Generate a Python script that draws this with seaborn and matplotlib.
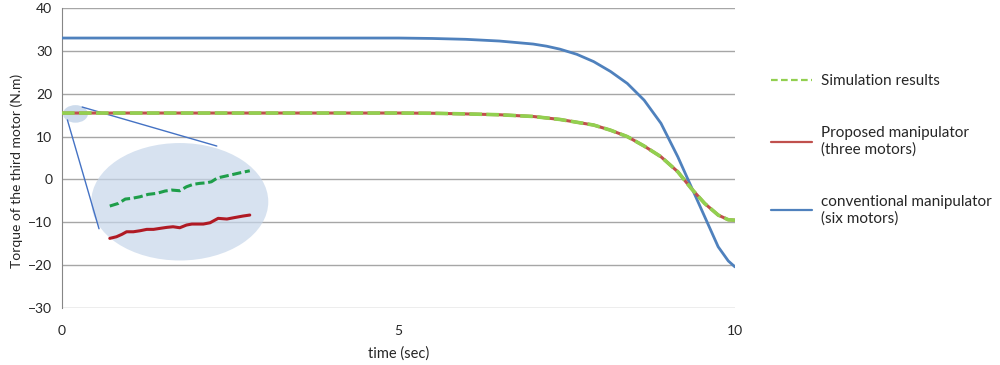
import numpy as np
import pandas as pd
import matplotlib
matplotlib.use('Agg')
import matplotlib.pyplot as plt
from matplotlib.patches import Ellipse
from matplotlib.lines import Line2D
import seaborn as sns

# main curves (time in sec, torque in N.m)
t_conv = [0, 1, 2, 3, 4, 5, 5.5, 6, 6.5, 7, 7.2, 7.4, 7.65, 7.9, 8.15, 8.4, 8.65, 8.9, 9.15, 9.35, 9.55, 9.75, 9.9, 10]
tq_conv = [33, 33, 33, 33, 33, 33, 32.9, 32.7, 32.3, 31.6, 31.1, 30.4, 29.2, 27.5, 25.2, 22.4, 18.5, 13.1, 5.3, -1.7, -8.7, -15.7, -19.0, -20.4]

t_prop = [0, 1, 2, 3, 4, 5, 5.5, 6, 6.5, 7, 7.4, 7.9, 8.15, 8.4, 8.65, 8.9, 9.15, 9.35, 9.55, 9.75, 9.9, 10]
tq_prop = [15.5, 15.5, 15.5, 15.5, 15.5, 15.5, 15.45, 15.3, 15.1, 14.7, 14.0, 12.7, 11.5, 10.0, 7.8, 5.3, 1.8, -2.1, -5.6, -8.3, -9.4, -9.5]
tq_sim = tq_prop

# zoom inset (drawn in data coordinates)
zoom_t_sim = [0.71, 0.84, 0.94, 1.04, 1.16, 1.28, 1.41, 1.53, 1.63, 1.75, 1.85, 1.95, 2.05, 2.15, 2.22, 2.30, 2.35, 2.50, 2.65, 2.79]
zoom_y_sim = [-6.2, -5.57, -4.57, -4.4, -4.03, -3.47, -3.23, -2.7, -2.47, -2.63, -1.7, -1.13, -0.9, -0.77, -0.53, 0.27, 0.5, 1.03, 1.57, 2.03]
zoom_t_prop = [0.71, 0.81, 0.89, 0.96, 1.06, 1.16, 1.26, 1.36, 1.46, 1.56, 1.65, 1.75, 1.85, 1.93, 2.0, 2.1, 2.2, 2.32, 2.45, 2.55, 2.69, 2.79]
zoom_y_prop = [-13.74, -13.36, -12.8, -12.2, -12.2, -11.96, -11.64, -11.64, -11.4, -11.17, -11.03, -11.26, -10.63, -10.4, -10.4, -10.4, -10.1, -9.07, -9.23, -8.93, -8.53, -8.3]

c_blue = '#4F81BD'
c_red = '#C0504D'
c_green = '#92D050'

sns.set_style('white')
plt.rcParams['font.family'] = ['Lato', 'DejaVu Sans']

fig = plt.figure(figsize=(10, 3.65), dpi=100)
ax = fig.add_axes([0.062, 0.156, 0.673, 0.822])

df_conv = pd.DataFrame({'t': t_conv, 'tq': tq_conv})
df_prop = pd.DataFrame({'t': t_prop, 'tq': tq_prop})
df_sim = pd.DataFrame({'t': t_prop, 'tq': tq_sim})

# zoom decoration
ax.add_patch(Ellipse((0.2, 15.3), 0.37, 4.1, facecolor='#b9cde5', alpha=0.7, edgecolor='none', zorder=3))
ax.add_patch(Ellipse((1.75, -5.2), 2.63, 27.4, facecolor='#c6d6ea', alpha=0.7, edgecolor='none', zorder=3))
ax.plot([0.30, 2.30], [16.9, 7.8], color='#4472C4', lw=1.0, zorder=4)
ax.plot([0.08, 0.55], [13.9, -11.5], color='#4472C4', lw=1.0, zorder=4)
sns.lineplot(x=zoom_t_sim, y=zoom_y_sim, ax=ax, color='#1E9E4A', lw=2.2, linestyle=(0, (3, 1.2)), zorder=5)
sns.lineplot(x=zoom_t_prop, y=zoom_y_prop, ax=ax, color='#B01A24', lw=2.2, zorder=5)

sns.lineplot(data=df_conv, x='t', y='tq', ax=ax, color=c_blue, lw=2.0, zorder=6)
sns.lineplot(data=df_prop, x='t', y='tq', ax=ax, color=c_red, lw=2.2, zorder=6)
sns.lineplot(data=df_sim, x='t', y='tq', ax=ax, color=c_green, lw=2.6, linestyle=(0, (3.5, 1.2)), zorder=7)

ax.set_xlim(0, 10)
ax.set_ylim(-30, 40)
ax.set_xticks([0, 5, 10])
ax.set_yticks(range(-30, 41, 10))
ax.yaxis.grid(True, color='#A6A6A6', lw=1.0)
ax.set_axisbelow(True)
for s in ['top', 'right', 'bottom']:
    ax.spines[s].set_visible(False)
ax.spines['left'].set_color('#868686')
ax.tick_params(axis='y', length=4, color='#868686', labelsize=10, pad=3)
ax.tick_params(axis='x', length=0, labelsize=10, pad=12)
ax.set_xlabel('time (sec)', fontsize=10.5, labelpad=7)
ax.set_ylabel('Torque of the third motor (N.m)', fontsize=10)
ax.yaxis.set_label_coords(-0.058, 0.457)

handles = [
    Line2D([], [], color=c_green, lw=1.6, linestyle=(0, (3, 1.5))),
    Line2D([], [], color=c_red, lw=1.6),
    Line2D([], [], color=c_blue, lw=1.6),
]
labels = ['Simulation results', 'Proposed manipulator\n(three motors)', 'conventional manipulator\n(six motors)']
fig.legend(handles, labels, loc='upper left', bbox_to_anchor=(0.757, 0.835), frameon=False,
           fontsize=11, handlelength=2.7, handletextpad=0.6, labelspacing=2.5)

fig.savefig('out.png', dpi=100)
